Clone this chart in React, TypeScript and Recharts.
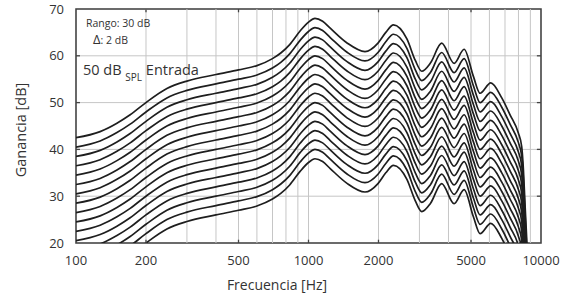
import { LineChart, Line, XAxis, YAxis, CartesianGrid, ReferenceLine, ReferenceArea } from 'recharts'

const FONT = '"Open Sans", "Noto Sans", sans-serif'
const TEXT = '#333'

// frecuencias (Hz) en las que se leyeron las curvas
const freqs = [100, 127, 150, 171, 200, 246, 300, 400, 500, 600, 700, 760, 830, 920, 1000, 1066, 1150, 1240, 1460, 1750, 1990, 2150, 2320, 2650, 2880, 3070, 3350, 3740, 4230, 4670, 5120, 5470, 6080, 6780, 7360, 7990, 8260, 8400, 8530, 8670, 8850, 9100]

// ganancia [dB] para cada nivel de entrada (dB SPL)
const gain50 = [42.5, 43.8, 45.6, 47.4, 50.0, 53.0, 54.6, 56.0, 57.0, 57.9, 59.4, 60.6, 62.4, 65.3, 67.2, 68.0, 67.4, 65.9, 62.8, 60.9, 62.7, 65.0, 66.6, 63.6, 59.0, 56.7, 58.5, 62.7, 58.4, 61.4, 55.6, 52.0, 54.2, 51.0, 47.4, 43.5, 40.6, 35.7, 28.6, 21.4, 12.0, 2.0]
const gain52 = [40.5, 41.8, 43.6, 45.4, 48.0, 51.0, 52.6, 54.0, 55.0, 55.9, 57.4, 58.6, 60.4, 63.3, 65.2, 66.0, 65.4, 63.9, 60.8, 58.9, 60.7, 63.0, 64.6, 61.6, 57.0, 54.7, 56.5, 60.7, 56.4, 59.4, 53.6, 50.0, 52.2, 49.0, 45.4, 41.5, 38.6, 33.7, 26.6, 19.4, 10.0, 0.0]
const gain54 = [38.5, 39.8, 41.6, 43.4, 46.0, 49.0, 50.6, 52.0, 53.0, 53.9, 55.4, 56.6, 58.4, 61.3, 63.2, 64.0, 63.4, 61.9, 58.8, 56.9, 58.7, 61.0, 62.6, 59.6, 55.0, 52.7, 54.5, 58.7, 54.4, 57.4, 51.6, 48.0, 50.2, 47.0, 43.4, 39.5, 36.6, 31.7, 24.6, 17.4, 8.0, -2.0]
const gain56 = [36.5, 37.8, 39.6, 41.4, 44.0, 47.0, 48.6, 50.0, 51.0, 51.9, 53.4, 54.6, 56.4, 59.3, 61.2, 62.0, 61.4, 59.9, 56.8, 54.9, 56.7, 59.0, 60.6, 57.6, 53.0, 50.7, 52.5, 56.7, 52.4, 55.4, 49.6, 46.0, 48.2, 45.0, 41.4, 37.5, 34.6, 29.7, 22.6, 15.4, 6.0, -4.0]
const gain58 = [34.5, 35.8, 37.6, 39.4, 42.0, 45.0, 46.6, 48.0, 49.0, 49.9, 51.4, 52.6, 54.4, 57.3, 59.2, 60.0, 59.4, 57.9, 54.8, 52.9, 54.7, 57.0, 58.6, 55.6, 51.0, 48.7, 50.5, 54.7, 50.4, 53.4, 47.6, 44.0, 46.2, 43.0, 39.4, 35.5, 32.6, 27.7, 20.6, 13.4, 4.0, -6.0]
const gain60 = [32.5, 33.8, 35.6, 37.4, 40.0, 43.0, 44.6, 46.0, 47.0, 47.9, 49.4, 50.6, 52.4, 55.3, 57.2, 58.0, 57.4, 55.9, 52.8, 50.9, 52.7, 55.0, 56.6, 53.6, 49.0, 46.7, 48.5, 52.7, 48.4, 51.4, 45.6, 42.0, 44.2, 41.0, 37.4, 33.5, 30.6, 25.7, 18.6, 11.4, 2.0, -8.0]
const gain62 = [30.5, 31.8, 33.6, 35.4, 38.0, 41.0, 42.6, 44.0, 45.0, 45.9, 47.4, 48.6, 50.4, 53.3, 55.2, 56.0, 55.4, 53.9, 50.8, 48.9, 50.7, 53.0, 54.6, 51.6, 47.0, 44.7, 46.5, 50.7, 46.4, 49.4, 43.6, 40.0, 42.2, 39.0, 35.4, 31.5, 28.6, 23.7, 16.6, 9.4, 0.0, -10.0]
const gain64 = [28.5, 29.8, 31.6, 33.4, 36.0, 39.0, 40.6, 42.0, 43.0, 43.9, 45.4, 46.6, 48.4, 51.3, 53.2, 54.0, 53.4, 51.9, 48.8, 46.9, 48.7, 51.0, 52.6, 49.6, 45.0, 42.7, 44.5, 48.7, 44.4, 47.4, 41.6, 38.0, 40.2, 37.0, 33.4, 29.5, 26.6, 21.7, 14.6, 7.4, -2.0, -12.0]
const gain66 = [26.5, 27.8, 29.6, 31.4, 34.0, 37.0, 38.6, 40.0, 41.0, 41.9, 43.4, 44.6, 46.4, 49.3, 51.2, 52.0, 51.4, 49.9, 46.8, 44.9, 46.7, 49.0, 50.6, 47.6, 43.0, 40.7, 42.5, 46.7, 42.4, 45.4, 39.6, 36.0, 38.2, 35.0, 31.4, 27.5, 24.6, 19.7, 12.6, 5.4, -4.0, -14.0]
const gain68 = [24.5, 25.8, 27.6, 29.4, 32.0, 35.0, 36.6, 38.0, 39.0, 39.9, 41.4, 42.6, 44.4, 47.3, 49.2, 50.0, 49.4, 47.9, 44.8, 42.9, 44.7, 47.0, 48.6, 45.6, 41.0, 38.7, 40.5, 44.7, 40.4, 43.4, 37.6, 34.0, 36.2, 33.0, 29.4, 25.5, 22.6, 17.7, 10.6, 3.4, -6.0, -16.0]
const gain70 = [22.5, 23.8, 25.6, 27.4, 30.0, 33.0, 34.6, 36.0, 37.0, 37.9, 39.4, 40.6, 42.4, 45.3, 47.2, 48.0, 47.4, 45.9, 42.8, 40.9, 42.7, 45.0, 46.6, 43.6, 39.0, 36.7, 38.5, 42.7, 38.4, 41.4, 35.6, 32.0, 34.2, 31.0, 27.4, 23.5, 20.6, 15.7, 8.6, 1.4, -8.0, -18.0]
const gain72 = [20.5, 21.8, 23.6, 25.4, 28.0, 31.0, 32.6, 34.0, 35.0, 35.9, 37.4, 38.6, 40.4, 43.3, 45.2, 46.0, 45.4, 43.9, 40.8, 38.9, 40.7, 43.0, 44.6, 41.6, 37.0, 34.7, 36.5, 40.7, 36.4, 39.4, 33.6, 30.0, 32.2, 29.0, 25.4, 21.5, 18.6, 13.7, 6.6, -0.6, -10.0, -20.0]
const gain74 = [18.5, 19.8, 21.6, 23.4, 26.0, 29.0, 30.6, 32.0, 33.0, 33.9, 35.4, 36.6, 38.4, 41.3, 43.2, 44.0, 43.4, 41.9, 38.8, 36.9, 38.7, 41.0, 42.6, 39.6, 35.0, 32.7, 34.5, 38.7, 34.4, 37.4, 31.6, 28.0, 30.2, 27.0, 23.4, 19.5, 16.6, 11.7, 4.6, -2.6, -12.0, -22.0]
const gain76 = [16.5, 17.8, 19.6, 21.4, 24.0, 27.0, 28.6, 30.0, 31.0, 31.9, 33.4, 34.6, 36.4, 39.3, 41.2, 42.0, 41.4, 39.9, 36.8, 34.9, 36.7, 39.0, 40.6, 37.6, 33.0, 30.7, 32.5, 36.7, 32.4, 35.4, 29.6, 26.0, 28.2, 25.0, 21.4, 17.5, 14.6, 9.7, 2.6, -4.6, -14.0, -24.0]
const gain78 = [14.5, 15.8, 17.6, 19.4, 22.0, 25.0, 26.6, 28.0, 29.0, 29.9, 31.4, 32.6, 34.4, 37.3, 39.2, 40.0, 39.4, 37.9, 34.8, 32.9, 34.7, 37.0, 38.6, 35.6, 31.0, 28.7, 30.5, 34.7, 30.4, 33.4, 27.6, 24.0, 26.2, 23.0, 19.4, 15.5, 12.6, 7.7, 0.6, -6.6, -16.0, -26.0]
const gain80 = [12.5, 13.8, 15.6, 17.4, 20.0, 23.0, 24.6, 26.0, 27.0, 27.9, 29.4, 30.6, 32.4, 35.3, 37.2, 38.0, 37.4, 35.9, 32.8, 30.9, 32.7, 35.0, 36.6, 33.6, 29.0, 26.7, 28.5, 32.7, 28.4, 31.4, 25.6, 22.0, 24.2, 21.0, 17.4, 13.5, 10.6, 5.7, -1.4, -8.6, -18.0, -28.0]

const levels = [50, 52, 54, 56, 58, 60, 62, 64, 66, 68, 70, 72, 74, 76, 78, 80]
const curves = [gain50, gain52, gain54, gain56, gain58, gain60, gain62, gain64, gain66, gain68, gain70, gain72, gain74, gain76, gain78, gain80]

const xTicks = [100, 200, 500, 1000, 2000, 5000, 10000]
const xGrid = [200, 300, 400, 500, 600, 700, 800, 900, 1000, 2000, 3000, 4000, 5000, 6000, 7000, 8000, 9000]
const yTicks = [20, 30, 40, 50, 60, 70]

const rows = freqs.map((f, i) => {
  const row: Record<string, number> = { f }
  levels.forEach((lv, k) => { row['g' + lv] = curves[k][i] })
  return row
})

export default function App() {
  const W = 571
  const H = 297
  const tick = { fill: TEXT, fontSize: 13, fontFamily: FONT }
  return (
    <div style={{ position: 'absolute', left: 0, top: 0, width: W, height: H, background: '#fff' }}>
      <LineChart width={W} height={H} data={rows} margin={{ top: 9, right: 30, bottom: 24, left: 0 }}>
        <CartesianGrid vertical={false} stroke="#c6c6c6" strokeWidth={1} />
        <XAxis
          dataKey="f"
          type="number"
          scale="log"
          domain={[100, 10000]}
          ticks={xTicks}
          allowDataOverflow
          height={30}
          tickLine={false}
          axisLine={false}
          tickMargin={7}
          tick={tick}
        />
        <YAxis
          type="number"
          domain={[20, 70]}
          ticks={yTicks}
          allowDataOverflow
          width={76}
          tickLine={false}
          axisLine={false}
          tickMargin={6}
          tick={tick}
        />
        {xGrid.map(f => (
          <ReferenceLine key={'gx' + f} x={f} stroke="#c6c6c6" strokeWidth={1} />
        ))}
        {levels.map(lv => (
          <Line
            key={lv}
            dataKey={'g' + lv}
            type="monotone"
            stroke="#1e1e1e"
            strokeWidth={1.7}
            dot={false}
            activeDot={false}
            isAnimationActive={false}
          />
        ))}
        {/* marcas hacia adentro */}
        {xTicks.slice(1, -1).map(f => (
          <ReferenceLine key={'tb' + f} segment={[{ x: f, y: 20 }, { x: f, y: 20.7 }]} stroke="#444" strokeWidth={1.3} />
        ))}
        {xTicks.slice(1, -1).map(f => (
          <ReferenceLine key={'tt' + f} segment={[{ x: f, y: 70 }, { x: f, y: 69.3 }]} stroke="#444" strokeWidth={1.3} />
        ))}
        {yTicks.slice(1, -1).map(v => (
          <ReferenceLine key={'tl' + v} segment={[{ x: 100, y: v }, { x: 104, y: v }]} stroke="#444" strokeWidth={1.3} />
        ))}
        {yTicks.slice(1, -1).map(v => (
          <ReferenceLine key={'tr' + v} segment={[{ x: 9600, y: v }, { x: 10000, y: v }]} stroke="#444" strokeWidth={1.3} />
        ))}
        <ReferenceArea x1={100} x2={10000} y1={20} y2={70} fill="none" stroke="#444" strokeWidth={1.6} ifOverflow="visible" />
      </LineChart>
      <svg width={W} height={H} style={{ position: 'absolute', left: 0, top: 0, pointerEvents: 'none' }}>
        <g fontFamily={FONT} fill={TEXT}>
          <text x={86} y={27} fontSize={10.5}>Rango: 30 dB</text>
          <text x={93} y={44} fontSize={13}>Δ<tspan fontSize={10.5}>: 2 dB</tspan></text>
          <text x={83} y={75} fontSize={14.5}>50 dB <tspan fontSize={10} dy={6}>SPL</tspan><tspan dy={-6}> Entrada</tspan></text>
          <text x={277} y={290} fontSize={14} textAnchor="middle">Frecuencia [Hz]</text>
          <text x={26} y={130} fontSize={14.5} textAnchor="middle" transform="rotate(-90 26 130)">Ganancia [dB]</text>
        </g>
      </svg>
    </div>
  )
}
